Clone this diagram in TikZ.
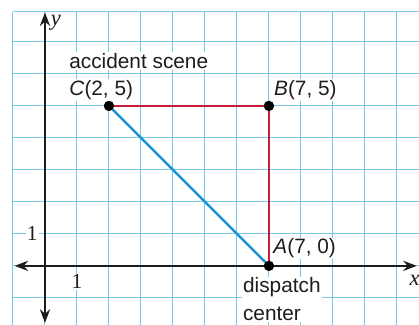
\documentclass[tikz,border=0pt]{standalone}
\usepackage{fontspec}
\setmainfont{Liberation Serif}
\setsansfont{Liberation Sans}
\usetikzlibrary{arrows.meta}
\definecolor{gridblue}{RGB}{120,200,232}
\definecolor{segred}{RGB}{196,30,58}
\definecolor{segblue}{RGB}{30,145,210}
\definecolor{axisblack}{RGB}{30,28,30}
\begin{document}
\begin{tikzpicture}[x=1cm,y=1cm,
  lbl/.style={font=\sffamily\fontsize{18.5}{25}\selectfont, fill=white, inner sep=1pt, text=axisblack, anchor=west},
  tick/.style={font=\rmfamily\fontsize{19}{19}\selectfont, fill=white, inner sep=1pt, text=axisblack},
  axlab/.style={font=\rmfamily\itshape\fontsize{20}{20}\selectfont, text=axisblack},
  axis/.style={line width=2.2pt, draw=axisblack, {Stealth[length=12pt,width=9pt]}-{Stealth[length=12pt,width=9pt]}},
  dot/.style={circle, fill=black, inner sep=0pt, minimum size=9pt}]
\useasboundingbox (-1.406,-1.84) rectangle (11.69,8.31);
\fill[white] (-1.406,-1.84) rectangle (11.69,8.31);
% grid
\foreach \i in {-1,...,11} \draw[gridblue, line width=0.9pt] (\i,-1.84) -- (\i,7.94);
\foreach \j in {-1,...,7} \draw[gridblue, line width=0.9pt] (-1,\j) -- (11.69,\j);
\draw[gridblue, line width=0.9pt] (-1,7.94) -- (11.69,7.94);
% axes
\coordinate (yb) at (0,-1.78);
\coordinate (yt) at (0,7.92);
\coordinate (xl) at (-0.95,0);
\coordinate (xr) at (11.62,0);
\draw[axis] (yb) -- (yt);
\draw[axis] (xl) -- (xr);
\node[axlab] (ylab) at (0.34,7.6) {y};
\node[axlab] (xlab) at (11.55,-0.45) {x};
\node[tick] (one x) at (1,-0.5) {1};
\node[tick] (one y) at (-0.4,1) {1};
% points
\node[dot] (A) at (7,0) {};
\node[dot] (B) at (7,5) {};
\node[dot] (C) at (2,5) {};
\draw[segred, line width=2pt] (C) -- (B) -- (A);
\draw[segblue, line width=2.2pt] (C) -- (A);
\node[dot] at (7,0) {};
\node[dot] at (7,5) {};
\node[dot] at (2,5) {};
% labels
\node[lbl] (accident) at (0.72,6.41) {accident scene};
\node[lbl] (Clab) at (0.72,5.5) {\textit{C}(2, 5)};
\node[lbl] (Blab) at (7.12,5.5) {\textit{B}(7, 5)};
\node[lbl] (Alab) at (7.1,0.54) {\textit{A}(7, 0)};
\node[lbl, align=left, anchor=north west, inner sep=1pt] (dispatch) at (6.15,-0.33) {dispatch\\center};
\end{tikzpicture}
\end{document}
